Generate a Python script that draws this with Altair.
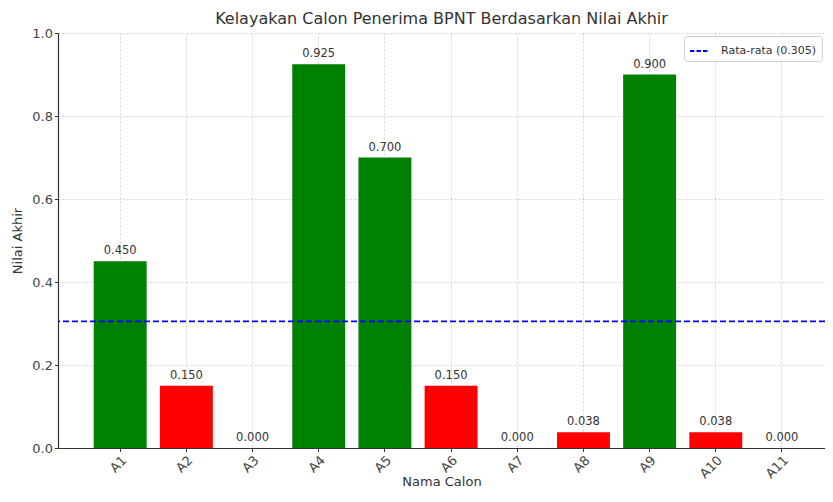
import altair as alt
import pandas as pd

names = ["A1", "A2", "A3", "A4", "A5", "A6", "A7", "A8", "A9", "A10", "A11"]
values = [0.450, 0.150, 0.000, 0.925, 0.700, 0.150, 0.000, 0.038, 0.900, 0.038, 0.000]
mean_value = 0.305
mean_label = "Rata-rata (0.305)"
status_domain = ["Layak", "Tidak Layak"]
status_colors = ["#008000", "#ff0000"]
y_ticks = [0.0, 0.2, 0.4, 0.6, 0.8, 1.0]

status = [status_domain[0] if v >= mean_value else status_domain[1] for v in values]
df = pd.DataFrame({"Nama Calon": names, "Nilai Akhir": values, "Status": status})
mean_df = pd.DataFrame({"Rata": [mean_value], "Label": [mean_label]})

FONT = "DejaVu Sans"

x_enc = alt.X(
    "Nama Calon:N",
    sort=names,
    scale=alt.Scale(paddingInner=0.2, paddingOuter=0.395, align=0.6835),
    axis=alt.Axis(
        title="Nama Calon",
        labelAngle=-45,
        grid=True,
        bandPosition=0.5,
        labelPadding=2,
        titleY=37,
        titleBaseline="alphabetic",
    ),
)
y_enc = alt.Y(
    "Nilai Akhir:Q",
    scale=alt.Scale(domain=[0, 1], nice=False, zero=True),
    axis=alt.Axis(title="Nilai Akhir", values=y_ticks, format=".1f", titlePadding=7),
)

bars = alt.Chart(df).mark_bar().encode(
    x=x_enc,
    y=y_enc,
    color=alt.Color("Status:N", scale=alt.Scale(domain=status_domain, range=status_colors), legend=None),
)

labels = alt.Chart(df).mark_text(
    baseline="bottom", dy=-5, fontSize=11.5, color="#333333", font=FONT
).encode(
    x=alt.X("Nama Calon:N", sort=names),
    y=alt.Y("Nilai Akhir:Q"),
    text=alt.Text("Nilai Akhir:Q", format=".3f"),
)

mean_rule = alt.Chart(mean_df).mark_rule(strokeDash=[6, 3], strokeWidth=1.6).encode(
    y=alt.Y("Rata:Q"),
    color=alt.Color(
        "Label:N",
        scale=alt.Scale(domain=[mean_label], range=["#0000ff"]),
        legend=alt.Legend(
            title=None,
            orient="top-right",
            offset=3,
            fillColor="#ffffff",
            strokeColor="#cccccc",
            cornerRadius=3,
            padding=5,
            symbolType="stroke",
            symbolDash=[4.5, 2],
            symbolSize=324,
            symbolStrokeWidth=1.8,
            labelFontSize=11,
            labelColor="#333333",
            labelFont=FONT,
            labelOffset=12,
        ),
    ),
)

chart = (
    alt.layer(bars, labels, mean_rule)
    .resolve_scale(color="independent")
    .properties(
        width=767,
        height=415,
        autosize=alt.AutoSizeParams(type="none"),
        padding={"left": 50, "top": 25, "right": 0, "bottom": 42},
        title=alt.Title(
            "Kelayakan Calon Penerima BPNT Berdasarkan Nilai Akhir",
            font=FONT,
            fontSize=16,
            fontWeight="normal",
            color="#333333",
            anchor="middle",
            offset=0,
        ),
    )
    .configure_view(strokeWidth=0)
    .configure_axis(
        labelFont=FONT,
        titleFont=FONT,
        labelFontSize=13,
        titleFontSize=13,
        titleFontWeight="normal",
        labelColor="#444444",
        titleColor="#333333",
        domainColor="#333333",
        domainWidth=1.2,
        tickColor="#333333",
        tickSize=3.5,
        gridColor="#b8b8b8",
        gridDash=[2, 2],
        gridOpacity=0.8,
        gridWidth=0.8,
        zindex=1,
    )
)

chart.save("out.html", embed_options={"renderer": "svg", "actions": False})
